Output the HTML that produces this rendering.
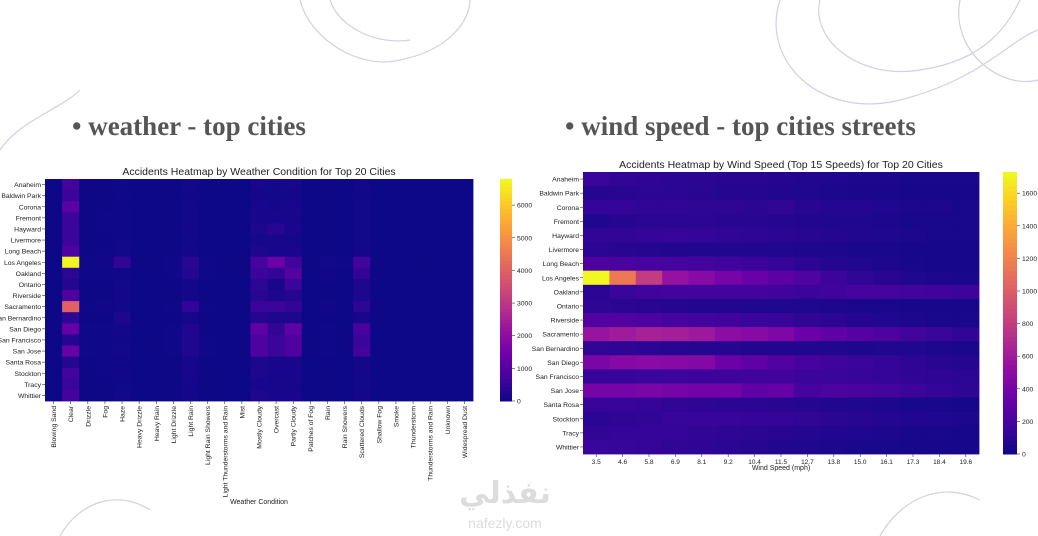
<!DOCTYPE html>
<html><head><meta charset="utf-8">
<style>
html,body{margin:0;padding:0;background:#fff;width:1038px;height:536px;overflow:hidden;font-family:"Liberation Sans","DejaVu Sans",sans-serif;}
.h{position:absolute;font-family:"Liberation Serif","DejaVu Serif",serif;font-weight:bold;font-size:27px;color:#555;white-space:nowrap;}
</style></head>
<body>
<svg id="s" width="1038" height="536" xmlns="http://www.w3.org/2000/svg">
<g fill="none" stroke="#d6cde6" stroke-width="1.2">
<path d="M300 0 C310 40 360 70 400 60 C450 50 470 20 470 0"/>
<path d="M330 0 C340 30 380 45 410 40"/>
<path d="M780 0 C760 60 820 120 900 100 C980 80 1010 40 1038 30"/>
<path d="M820 0 C810 40 860 80 920 70 C990 60 1010 20 1020 0"/>
<path d="M960 0 C950 50 1000 90 1038 80"/>
<path d="M0 150 C20 120 60 110 80 90"/>
<path d="M60 536 C80 500 120 490 150 510"/>
<path d="M880 536 C900 500 940 480 980 500"/>
</g>
<g fill="#dcdcdc" text-anchor="middle">
<text x="505" y="503" font-size="30" font-family="'DejaVu Sans',sans-serif" font-weight="bold">نفذلي</text>
<text x="505" y="528" font-size="14">nafezly.com</text>
</g>
</svg>
<div class="h" style="left:72px;top:111px">• weather - top cities</div>
<div class="h" style="left:565px;top:111px">• wind speed - top cities streets</div>
<script>
const cities=["Anaheim","Baldwin Park","Corona","Fremont","Hayward","Livermore","Long Beach","Los Angeles","Oakland","Ontario","Riverside","Sacramento","San Bernardino","San Diego","San Francisco","San Jose","Santa Rosa","Stockton","Tracy","Whittier"];
const weatherCats=["Blowing Sand","Clear","Drizzle","Fog","Haze","Heavy Drizzle","Heavy Rain","Light Drizzle","Light Rain","Light Rain Showers","Light Thunderstorms and Rain","Mist","Mostly Cloudy","Overcast","Partly Cloudy","Patches of Fog","Rain","Rain Showers","Scattered Clouds","Shallow Fog","Smoke","Thunderstorm","Thunderstorms and Rain","Unknown","Widespread Dust"];
const weatherVals=[
[0,700,10,10,30,0,0,10,60,10,0,0,150,100,120,0,10,0,60,0,0,0,0,0,0],
[0,600,10,10,20,0,0,10,50,0,0,0,100,80,100,0,10,0,40,0,0,0,0,0,0],
[0,1100,10,10,30,0,0,10,60,0,0,0,150,100,150,0,10,0,60,0,0,0,0,0,0],
[0,600,10,20,20,0,0,10,80,10,0,0,150,150,120,0,10,0,60,0,0,0,0,0,0],
[0,600,10,20,20,0,0,10,100,10,0,0,200,350,150,0,10,0,80,0,0,0,0,0,0],
[0,600,10,10,20,0,0,10,60,0,0,0,120,120,100,0,10,0,60,0,0,0,0,0,0],
[0,900,10,20,60,0,0,10,100,10,0,0,200,150,150,0,10,0,100,0,0,0,0,0,0],
[0,6700,30,40,500,10,10,30,350,30,10,10,800,1400,700,10,60,20,700,10,10,10,10,10,0],
[0,400,20,30,40,0,10,20,300,20,0,10,600,500,1000,10,40,10,500,0,0,0,0,0,0],
[0,300,10,10,60,0,0,10,100,10,0,0,400,150,600,0,10,0,200,0,0,0,0,0,0],
[0,900,10,10,60,0,0,10,100,10,0,0,350,200,300,0,10,0,200,0,0,0,0,0,0],
[0,4000,20,40,60,0,10,20,500,20,0,10,600,600,500,0,50,10,400,10,10,0,0,0,0],
[0,400,10,10,200,0,0,10,100,10,0,0,300,200,200,0,10,0,150,0,0,0,0,0,0],
[0,1300,20,30,80,0,0,20,250,10,0,10,1200,500,1200,10,30,10,800,0,0,0,0,0,0],
[0,300,20,30,40,0,10,20,250,20,0,10,900,600,900,10,30,10,600,0,0,0,0,0,0],
[0,1300,20,20,60,0,10,20,250,20,0,10,900,600,900,10,30,10,700,0,0,0,0,0,0],
[0,300,10,20,30,0,0,10,150,10,0,0,200,150,150,0,10,0,100,0,0,0,0,0,0],
[0,700,10,20,40,0,0,10,150,10,0,0,200,150,150,0,10,0,100,0,0,0,0,0,0],
[0,600,10,10,30,0,0,10,100,10,0,0,150,120,120,0,10,0,80,0,0,0,0,0,0],
[0,700,10,10,60,0,0,10,100,10,0,0,200,150,150,0,10,0,100,0,0,0,0,0,0]];
const weatherTicks=[0,1000,2000,3000,4000,5000,6000];
const windCats=["3.5","4.6","5.8","6.9","8.1","9.2","10.4","11.5","12.7","13.8","15.0","16.1","17.3","18.4","19.6"];
const windVals=[
[150,120,110,100,100,90,90,80,70,60,50,50,40,40,40],
[80,90,100,100,90,80,80,70,60,50,40,40,30,30,30],
[130,130,120,120,110,110,100,120,90,80,80,60,50,50,40],
[60,80,100,100,100,90,90,80,70,60,60,50,40,40,40],
[120,120,130,140,130,120,110,100,90,80,70,60,50,40,40],
[100,90,80,70,60,60,60,60,50,50,40,40,30,30,30],
[220,210,200,190,180,170,160,130,100,80,60,50,40,30,30],
[1720,1150,800,550,480,400,340,290,230,160,120,90,60,50,40],
[100,150,170,180,180,180,180,170,160,170,200,190,180,170,160],
[110,100,90,80,70,70,60,60,60,50,40,40,30,30,30],
[250,240,220,200,180,170,150,140,120,100,80,60,50,40,40],
[560,600,640,620,590,510,480,440,350,300,260,220,180,150,120],
[120,110,100,90,80,80,70,70,60,60,50,60,60,50,40],
[420,470,490,480,460,360,300,250,200,170,150,130,110,90,80],
[140,140,150,160,160,160,170,170,160,150,140,130,120,110,100],
[400,400,420,400,390,390,300,330,200,220,210,190,160,130,110],
[140,140,130,120,110,100,100,90,80,70,60,50,40,40,30],
[100,110,120,140,140,140,130,130,120,100,90,80,70,60,50],
[120,130,130,130,120,110,100,90,80,70,60,50,40,40,30],
[150,140,130,120,110,100,90,60,60,50,40,40,30,30,30]];
const windTicks=[0,200,400,600,800,1000,1200,1400,1600];

const stops=["#0d0887","#41049d","#6a00a8","#8f0da4","#b12a90","#cc4778","#e16462","#f2844b","#fca636","#fcce25","#f0f921"];
function hex(c){return [1,3,5].map(i=>parseInt(c.substr(i,2),16));}
function plasma(t){t=Math.max(0,Math.min(1,t));const p=t*10,i=Math.min(9,Math.floor(p)),f=p-i;const a=hex(stops[i]),b=hex(stops[i+1]);return "rgb("+a.map((v,k)=>Math.round(v+(b[k]-v)*f)).join(",")+")";}
const NS="http://www.w3.org/2000/svg";
const svg=document.getElementById("s");
function el(tag,attrs,parent,txt){const e=document.createElementNS(NS,tag);for(const k in attrs)e.setAttribute(k,attrs[k]);if(txt!==undefined)e.textContent=txt;(parent||svg).appendChild(e);return e;}

function heatmap(o){
  const g=el("g",{});
  
  
  const cw=(o.x1-o.x0)/o.cats.length, ch=(o.y1-o.y0)/cities.length;
  const xs=i=>o.x0+i*cw, ys=j=>o.y0+j*ch, cs=v=>plasma(v/o.vmax);
  o.vals.forEach((row,j)=>row.forEach((v,i)=>{
    const r=el("rect",{x:xs(i),y:ys(j),width:cw+0.4,height:ch+0.4,fill:cs(v)},g);
    
    
  }));
  const t=el("text",{x:(o.x0+o.x1)/2,y:o.y0-4,"font-size":10.5,"text-anchor":"middle",fill:"#222"},g,o.title);
  
  
  cities.forEach((c,j)=>{
    const y=ys(j)+ch/2;
    el("line",{x1:o.x0-3,x2:o.x0,y1:y,y2:y,stroke:"#333","stroke-width":0.6},g);
    const l=el("text",{x:o.x0-4,y:y+2.5,"font-size":6.8,"text-anchor":"end",fill:"#222"},g,c);
    
    
  });
  o.cats.forEach((c,i)=>{
    const x=xs(i)+cw/2;
    el("line",{x1:x,x2:x,y1:o.y1,y2:o.y1+3,stroke:"#333","stroke-width":0.6},g);
    let l;
    if(o.rot) l=el("text",{x:0,y:0,"font-size":6.8,"text-anchor":"end",fill:"#222",transform:"translate("+(x+2.5)+","+(o.y1+5)+") rotate(-90)"},g,c);
    else l=el("text",{x:x,y:o.y1+10,"font-size":6.5,"text-anchor":"middle",fill:"#222"},g,c);
    
    
  });
  const xt=el("text",{x:(o.x0+o.x1)/2,y:o.xty,"font-size":7,"text-anchor":"middle",fill:"#222"},g,o.xtitle);
  
  
  const cb=el("g",{},g);
  
  
  const N=60,h=(o.y1-o.y0)/N;
  for(let k=0;k<N;k++) el("rect",{x:o.cbx,y:o.y1-(k+1)*h,width:o.cbw,height:h+0.5,fill:plasma((k+0.5)/N)},cb);
  const cy=v=>o.y1-(v/o.vmax)*(o.y1-o.y0);
  o.ticks.forEach(v=>{
    const y=cy(v);
    el("line",{x1:o.cbx+o.cbw,x2:o.cbx+o.cbw+3,y1:y,y2:y,stroke:"#333","stroke-width":0.6},cb);
    const l=el("text",{x:o.cbx+o.cbw+5,y:y+2.5,"font-size":6.8,fill:"#222"},cb,String(v));
    
    
  });
}
heatmap({name:"weather-heatmap",cats:weatherCats,vals:weatherVals,vmax:6800,x0:45,x1:473,y0:179,y1:401,rot:true,title:"Accidents Heatmap by Weather Condition for Top 20 Cities",xtitle:"Weather Condition",xty:504,cbx:500,cbw:12,ticks:weatherTicks});
heatmap({name:"wind-speed-heatmap",cats:windCats,vals:windVals,vmax:1730,x0:583,x1:979,y0:172,y1:454,rot:false,title:"Accidents Heatmap by Wind Speed (Top 15 Speeds) for Top 20 Cities",xtitle:"Wind Speed (mph)",xty:470,cbx:1003,cbw:14,ticks:windTicks});
</script>
</body></html>
